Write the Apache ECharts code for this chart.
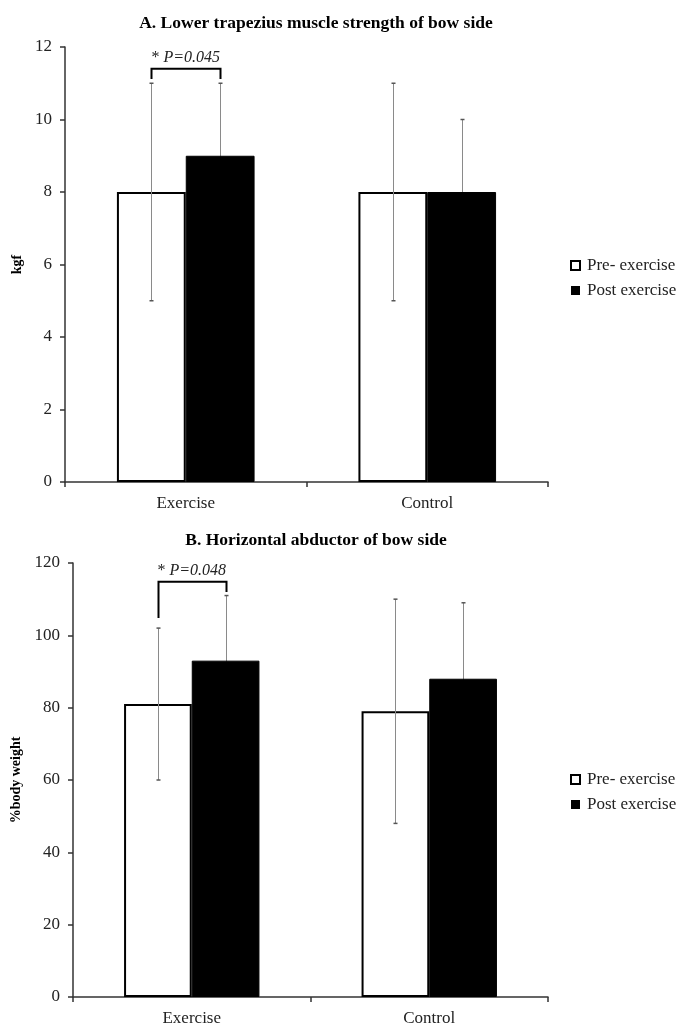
<!DOCTYPE html>
<html>
<head>
<meta charset="utf-8">
<script src="https://cdn.jsdelivr.net/npm/echarts@6/dist/echarts.min.js"></script>
<style>
  html, body { margin: 0; padding: 0; background: #fff; }
  #chart { width: 678px; height: 1028px; }
</style>
</head>
<body>
<div id="chart"></div>
<script>
// data
var groups = ['Exercise', 'Control'];
var seriesNames = ['Pre- exercise', 'Post exercise'];

// A. lower trapezius (kgf)
var aPre = [8, 8];
var aPost = [9, 8];
var aPreSd = [3, 3];
var aPostSd = [2, 2];
// bracket: [left foot, right foot, top]
var aBracket = [11.12, 11.12, 11.4];
var aSigText = 'P=0.045';

// B. horizontal abductor (% body weight)
var bPre = [81, 79];
var bPost = [93, 88];
var bPreSd = [21, 31];
var bPostSd = [18, 21];
var bBracket = [104.8, 112, 114.8];
var bSigText = 'P=0.048';

var serif = '"Liberation Serif", "Times New Roman", serif';
var catGap = 0.43;

var chart = echarts.init(document.getElementById('chart'));

// error bar for one of the two bars in a category (side -1 = pre, +1 = post)
function errorBar(side) {
  return function (params, api) {
    var c = api.coord([api.value(0), api.value(1)]);
    var band = api.size([1, 0])[0];
    var x = Math.round(c[0] + side * band * (1 - catGap) / 4) + 0.5;
    var top = api.coord([api.value(0), api.value(1) + api.value(2)])[1];
    var bot = api.coord([api.value(0), api.value(1) - api.value(2)])[1];
    var st = { stroke: '#8a8a8a', lineWidth: 1 };
    var cap = { stroke: '#555', lineWidth: 1.5 };
    return {
      type: 'group',
      children: [
        { type: 'line', shape: { x1: x, y1: top, x2: x, y2: bot }, style: st },
        { type: 'line', shape: { x1: x - 2, y1: top, x2: x + 2, y2: top }, style: cap },
        { type: 'line', shape: { x1: x - 2, y1: bot, x2: x + 2, y2: bot }, style: cap }
      ]
    };
  };
}

function bracket(br, txt) {
  return function (params, api) {
    var c = api.coord([0, br[2]]);
    var band = api.size([1, 0])[0];
    var off = band * (1 - catGap) / 4;
    var xl = Math.round(c[0] - off) + 0.5;
    var xr = Math.round(c[0] + off) + 0.5;
    var yt = c[1];
    var yl = api.coord([0, br[0]])[1];
    var yr = api.coord([0, br[1]])[1];
    return {
      type: 'group',
      children: [
        {
          type: 'polyline',
          shape: { points: [[xl, yl], [xl, yt], [xr, yt], [xr, yr]] },
          style: { stroke: '#000', lineWidth: 2, fill: null }
        },
        {
          type: 'text',
          x: c[0],
          y: yt - 3,
          style: {
            text: '{n|* }{i|' + txt + '}',
            align: 'center',
            verticalAlign: 'bottom',
            rich: {
              n: { fontFamily: serif, fontSize: 16, fill: '#222' },
              i: { fontFamily: serif, fontSize: 16, fontStyle: 'italic', fill: '#222' }
            }
          }
        }
      ]
    };
  };
}

function zip(a, b) {
  return a.map(function (v, i) { return [i, v, b[i]]; });
}

function panelSeries(idx, pre, post, preSd, postSd, br, txt) {
  return [
    {
      name: seriesNames[0], type: 'bar', xAxisIndex: idx, yAxisIndex: idx,
      data: pre, barGap: 0, barCategoryGap: (catGap * 100) + '%', z: 2,
      itemStyle: { color: '#fff', borderColor: '#000', borderWidth: 2 }
    },
    {
      name: seriesNames[1], type: 'bar', xAxisIndex: idx, yAxisIndex: idx,
      data: post, barGap: 0, barCategoryGap: (catGap * 100) + '%', z: 2,
      itemStyle: { color: '#000', borderColor: '#000', borderWidth: 1 }
    },
    {
      type: 'custom', xAxisIndex: idx, yAxisIndex: idx, z: 3, silent: true,
      renderItem: errorBar(-1), data: zip(pre, preSd)
    },
    {
      type: 'custom', xAxisIndex: idx, yAxisIndex: idx, z: 1, silent: true,
      renderItem: errorBar(1), data: zip(post, postSd)
    },
    {
      type: 'custom', xAxisIndex: idx, yAxisIndex: idx, z: 4, silent: true,
      renderItem: bracket(br, txt), data: [[0, br[2]]]
    }
  ];
}

function xAxisOf(idx) {
  return {
    type: 'category', gridIndex: idx, data: groups,
    axisLine: { lineStyle: { color: '#333', width: 1.5 } },
    axisTick: { show: true, length: 5, lineStyle: { color: '#333', width: 1.5 } },
    axisLabel: { fontFamily: serif, fontSize: 17, color: '#222', margin: 13 }
  };
}

function yAxisOf(idx, max, interval, name, gap) {
  return {
    type: 'value', gridIndex: idx, min: 0, max: max, interval: interval,
    name: name, nameLocation: 'middle', nameRotate: 90, nameGap: gap,
    nameTextStyle: { fontFamily: serif, fontSize: 14, fontWeight: 'bold', color: '#000' },
    axisLine: { show: true, lineStyle: { color: '#333', width: 1.5 } },
    axisTick: { show: true, inside: false, length: 5, lineStyle: { color: '#333', width: 1.5 } },
    splitLine: { show: false },
    axisLabel: { fontFamily: serif, fontSize: 17, color: '#222', margin: 13 }
  };
}

function legendOf(top) {
  return {
    orient: 'vertical', left: 565, top: top, itemGap: 8,
    itemWidth: 9, itemHeight: 9, icon: 'rect',
    textStyle: { fontFamily: serif, fontSize: 17, color: '#222', padding: [0, 0, 0, 2] },
    data: [
      { name: seriesNames[0], itemStyle: { color: '#fff', borderColor: '#000', borderWidth: 2 } },
      { name: seriesNames[1], itemStyle: { color: '#000', borderWidth: 0 } }
    ]
  };
}

chart.setOption({
  animation: false,
  backgroundColor: '#fff',
  title: [
    {
      text: 'A. Lower trapezius muscle strength of bow side', left: 311, top: 9, textAlign: 'center',
      textStyle: { fontFamily: serif, fontSize: 17.5, fontWeight: 'bold', color: '#000' }
    },
    {
      text: 'B. Horizontal abductor of bow side', left: 311, top: 526, textAlign: 'center',
      textStyle: { fontFamily: serif, fontSize: 17.5, fontWeight: 'bold', color: '#000' }
    }
  ],
  legend: [legendOf(252), legendOf(766)],
  grid: [
    { left: 65, top: 47, width: 483, height: 435 },
    { left: 73, top: 563, width: 475, height: 434 }
  ],
  xAxis: [xAxisOf(0), xAxisOf(1)],
  yAxis: [yAxisOf(0, 12, 2, 'kgf', 40), yAxisOf(1, 120, 20, '%body weight', 50)],
  series: panelSeries(0, aPre, aPost, aPreSd, aPostSd, aBracket, aSigText)
    .concat(panelSeries(1, bPre, bPost, bPreSd, bPostSd, bBracket, bSigText))
});
</script>
</body>
</html>
